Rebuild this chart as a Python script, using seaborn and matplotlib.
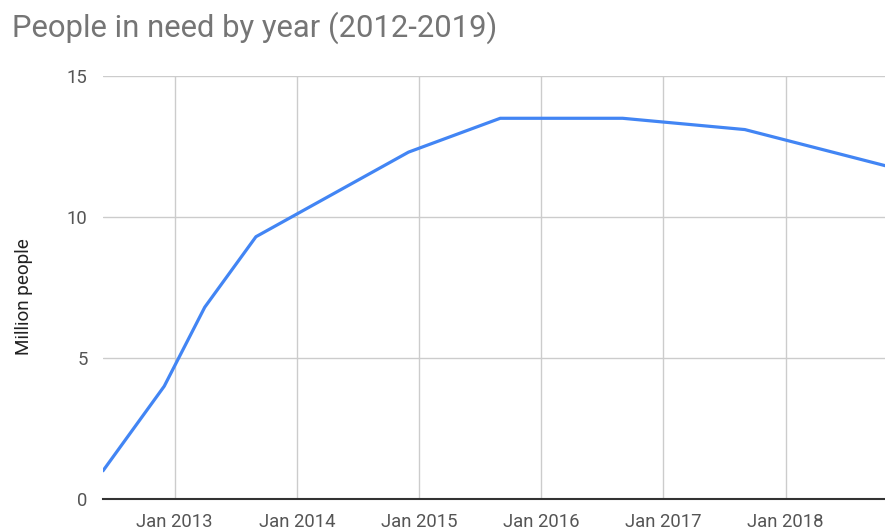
import matplotlib
matplotlib.use("Agg")
import matplotlib.pyplot as plt
import matplotlib.dates as mdates
import seaborn as sns
import pandas as pd

dates = ["2012-06-01", "2012-12-01", "2013-04-01", "2013-09-01", "2014-12-01",
         "2015-09-01", "2016-09-01", "2017-09-01", "2018-11-01"]
people = [1.0, 4.0, 6.8, 9.3, 12.3, 13.5, 13.5, 13.1, 11.8]
tick_years = [2013, 2014, 2015, 2016, 2017, 2018]
y_ticks = [0, 5, 10, 15]

df = pd.DataFrame({"date": pd.to_datetime(dates), "people": people})

sns.set_style("white")
plt.rcParams["font.family"] = ["Roboto", "DejaVu Sans"]

fig = plt.figure(figsize=(8.85, 5.31), dpi=100)
ax = fig.add_axes([0.1164, 0.0603, 0.8836, 0.7966])

sns.lineplot(data=df, x="date", y="people", ax=ax, color="#4285F4", linewidth=2.3)

ax.set_xlim(pd.Timestamp("2012-06-01"), pd.Timestamp("2018-10-25"))
ax.set_ylim(0, 15)
ax.set_yticks(y_ticks)
ax.set_xticks([pd.Timestamp(f"{y}-01-01") for y in tick_years])
ax.xaxis.set_major_formatter(mdates.DateFormatter("Jan %Y"))

ax.grid(True, color="#cccccc", linewidth=1)
ax.set_axisbelow(True)
for s in ["top", "right", "left"]:
    ax.spines[s].set_visible(False)
ax.spines["bottom"].set_color("#333333")
ax.spines["bottom"].set_linewidth(1.5)
ax.tick_params(axis="both", length=0, colors="#555555", labelsize=13.3)
ax.tick_params(axis="y", pad=11)
ax.tick_params(axis="x", pad=10)

ax.set_xlabel("")
ax.set_ylabel("Million people", fontsize=13.6, color="#222222")
ax.yaxis.set_label_coords(-0.09, 0.4775)

fig.text(0.0135, 0.93, "People in need by year (2012-2019)", fontsize=22.3,
         color="#757575", ha="left", va="baseline")

fig.savefig("out.png", dpi=100)
